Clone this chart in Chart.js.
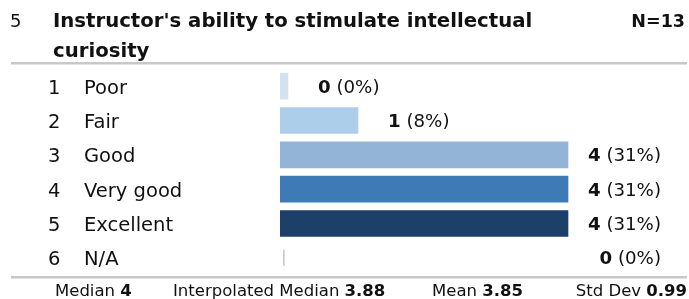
<!DOCTYPE html>
<html><head><meta charset="utf-8">
<script src="https://cdn.jsdelivr.net/npm/chart.js@4/dist/chart.umd.min.js"></script>
<style>html,body{margin:0;padding:0;background:#fff;overflow:hidden}#wrap{width:689px;height:299px;position:relative}</style>
</head><body><div id="wrap"><canvas id="c" width="689" height="299"></canvas></div>
<script>
const questionNumber = "5";
const questionTitle = ["Instructor's ability to stimulate intellectual", "curiosity"];
const responseCount = "N=13";
const optionNumbers = ["1", "2", "3", "4", "5", "6"];
const categories = ["Poor", "Fair", "Good", "Very good", "Excellent", "N/A"];
const counts = [0, 1, 4, 4, 4, 0];
const percents = ["0%", "8%", "31%", "31%", "31%", "0%"];
const barColors = ["#d3e2f0", "#acceeb", "#93b4d6", "#3e7bb6", "#1c4068", "rgba(0,0,0,0)"];
const statLabels = ["Median", "Interpolated Median", "Mean", "Std Dev"];
const statValues = ["4", "3.88", "3.85", "0.99"];

const FONT = '"DejaVu Sans", Verdana, sans-serif';
const X_MIN = -8 / 70;
const X_MAX = 5.6;

function drawPair(ctx, x, y, normal, bold, size, align) {
  ctx.font = size + 'px ' + FONT;
  const w1 = ctx.measureText(normal).width;
  ctx.font = 'bold ' + size + 'px ' + FONT;
  const w2 = ctx.measureText(bold).width;
  let sx = align === 'right' ? x - w1 - w2 : x;
  ctx.textAlign = 'left';
  ctx.font = size + 'px ' + FONT;
  ctx.fillText(normal, sx, y);
  ctx.font = 'bold ' + size + 'px ' + FONT;
  ctx.fillText(bold, sx + w1, y);
}

const decor = {
  id: 'decor',
  afterDraw(chart) {
    const ctx = chart.ctx;
    const xs = chart.scales.x, ys = chart.scales.y;
    ctx.save();
    ctx.textBaseline = 'alphabetic';
    ctx.fillStyle = '#111';
    // header
    ctx.font = '18px ' + FONT;
    ctx.textAlign = 'left';
    ctx.fillText(questionNumber, 10, 27);
    ctx.font = 'bold 19.7px ' + FONT;
    ctx.fillText(questionTitle[0], 53, 27);
    ctx.fillText(questionTitle[1], 53, 57);
    ctx.font = 'bold 17.5px ' + FONT;
    ctx.textAlign = 'right';
    ctx.fillText(responseCount, 685, 27);
    // rules
    ctx.fillStyle = '#c8c8c8';
    ctx.fillRect(11, 62, 676, 2.5);
    ctx.fillRect(11, 276, 676, 2.5);
    // rows
    categories.forEach((cat, i) => {
      const cy = ys.getPixelForValue(i);
      ctx.fillStyle = '#111';
      ctx.textAlign = 'left';
      ctx.font = '19.5px ' + FONT;
      ctx.fillText(optionNumbers[i], 48, cy + 7.5);
      ctx.fillText(cat, 84, cy + 7.5);
      // value label
      const bold = String(counts[i]);
      const normal = ' (' + percents[i] + ')';
      ctx.font = 'bold 18.2px ' + FONT;
      const wb = ctx.measureText(bold).width;
      ctx.font = '18.2px ' + FONT;
      const wn = ctx.measureText(normal).width;
      const isNA = cat === 'N/A';
      const barEnd = xs.getPixelForValue(counts[i]);
      let lx = barEnd + 30;
      if (isNA || lx + wb + wn > 662) lx = 661 - wb - wn;
      ctx.font = 'bold 18.2px ' + FONT;
      ctx.fillText(bold, lx, cy + 6.5);
      ctx.font = '18.2px ' + FONT;
      ctx.fillText(normal, lx + wb, cy + 6.5);
      if (isNA) {
        ctx.fillStyle = '#c8c8c8';
        ctx.fillRect(xs.getPixelForValue(0) - 5, cy - 8, 1.6, 16);
      }
    });
    // stats
    ctx.fillStyle = '#111';
    const sx = [55, 173, 432, 687];
    statLabels.forEach((s, i) => {
      drawPair(ctx, sx[i], 296, s + ' ', statValues[i], 16.5, i === 3 ? 'right' : 'left');
    });
    ctx.restore();
  }
};

new Chart(document.getElementById('c'), {
  type: 'bar',
  data: {
    labels: categories,
    datasets: [{
      data: counts,
      base: X_MIN,
      backgroundColor: barColors,
      borderWidth: 0,
      barThickness: 26
    }]
  },
  options: {
    indexAxis: 'y',
    responsive: false,
    animation: false,
    events: [],
    layout: { padding: { left: 280, right: 9, top: 69, bottom: 24 } },
    scales: {
      x: { display: false, min: X_MIN, max: X_MAX },
      y: { display: false, offset: true }
    },
    plugins: { legend: { display: false }, tooltip: { enabled: false } }
  },
  plugins: [decor]
});
</script>
</body></html>
